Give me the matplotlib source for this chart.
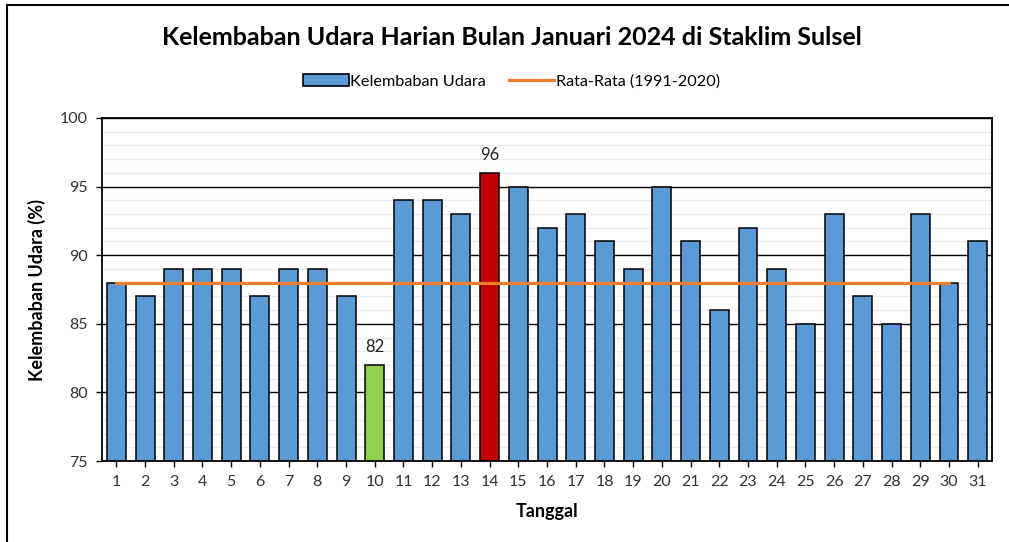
import matplotlib.pyplot as plt
from matplotlib.lines import Line2D
from matplotlib.patches import Patch

plt.rcParams['font.family'] = ['Lato', 'DejaVu Sans']

tanggal = list(range(1, 32))
kelembaban = [88, 87, 89, 89, 89, 87, 89, 89, 87, 82,
              94, 94, 93, 96, 95, 92, 93, 91, 89, 95,
              91, 86, 92, 89, 85, 93, 87, 85, 93, 88, 91]
hari_rata = list(range(1, 31))
rata_rata = [88, 88, 88, 88, 88, 88, 88, 88, 88, 88,
             88, 88, 88, 88, 88, 88, 88, 88, 88, 88,
             88, 88, 88, 88, 88, 88, 88, 88, 88, 88]

biru = '#5B9BD5'
warna = [biru] * len(tanggal)
warna[kelembaban.index(min(kelembaban))] = '#92D050'
warna[kelembaban.index(max(kelembaban))] = '#C00000'

fig = plt.figure(figsize=(10.09, 5.42), dpi=100)
ax = fig.add_axes([0.1011, 0.1494, 0.8821, 0.6329])

# grid
for y in range(76, 100):
    if y % 5:
        ax.axhline(y, color='#EDEDED', lw=1, zorder=0)
for y in range(80, 101, 5):
    ax.axhline(y, color='black', lw=1, zorder=0)

ax.bar(tanggal, kelembaban, width=0.66, color=warna, edgecolor='black',
       linewidth=1.1, zorder=2)
ax.plot(hari_rata, rata_rata, color='#ED7D31', lw=2.3, zorder=3)

for i in (kelembaban.index(min(kelembaban)), kelembaban.index(max(kelembaban))):
    ax.annotate(str(kelembaban[i]), (tanggal[i], kelembaban[i]),
                xytext=(0, 7), textcoords='offset points',
                ha='center', va='bottom', fontsize=12, color='#222222')

ax.set_xlim(0.5, 31.5)
ax.set_ylim(75, 100)
ax.set_xticks(tanggal)
ax.set_yticks(range(75, 101, 5))
ax.tick_params(axis='both', labelsize=11.5, length=4, width=1, colors='black',
               labelcolor='#333333', pad=6)
for s in ['left', 'bottom', 'right', 'top']:
    ax.spines[s].set_linewidth(1.3)

ax.set_xlabel('Tanggal', fontsize=13, fontweight='bold', labelpad=10)
ax.set_ylabel('Kelembaban Udara (%)', fontsize=13, fontweight='bold', labelpad=10)

fig.text(0.507, 0.93, 'Kelembaban Udara Harian Bulan Januari 2024 di Staklim Sulsel',
         ha='center', va='center', fontsize=18, fontweight='bold')

handles = [Patch(facecolor=biru, edgecolor='black', linewidth=1.2),
           Line2D([0], [0], color='#ED7D31', lw=2.3)]
fig.legend(handles, ['Kelembaban Udara', 'Rata-Rata (1991-2020)'],
           loc='center', bbox_to_anchor=(0.507, 0.85), ncol=2, frameon=False,
           fontsize=11.7, handlelength=2.8, handleheight=0.8, handletextpad=0.1,
           columnspacing=1.4)

# outer border
fig.add_artist(Line2D([7 / 1009, 7 / 1009], [0, 1 - 5 / 542], color='black', lw=1.5))
fig.add_artist(Line2D([7 / 1009, 1], [1 - 5 / 542, 1 - 5 / 542], color='black', lw=1.5))

fig.savefig('out.png', dpi=100)
